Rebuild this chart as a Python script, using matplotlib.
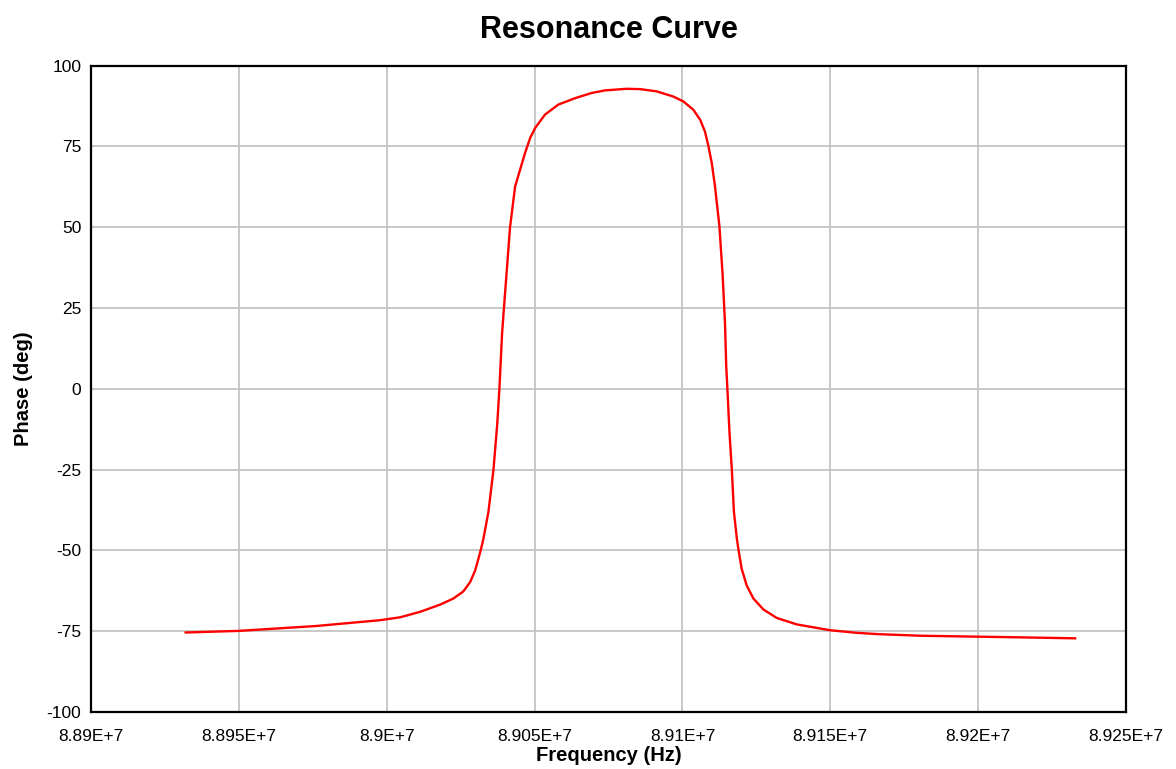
import matplotlib
matplotlib.use("Agg")
import matplotlib.pyplot as plt

plt.rcParams['font.family'] = ['Liberation Sans', 'DejaVu Sans']
plt.rcParams['axes.unicode_minus'] = False

# frequency points (Hz) and measured phase (deg)
freq_hz = [88932000, 88950000, 88976000, 88997700, 89004500, 89011300, 89018000,
           89022500, 89025900, 89028200, 89029900, 89031000, 89031900, 89032700,
           89034400, 89036100, 89037400, 89038100, 89039000, 89039800, 89041700,
           89043400, 89045100, 89046800, 89048500, 89050200, 89053500, 89058000,
           89063700, 89069300, 89073800, 89081000, 89085700, 89091300, 89096900,
           89100300, 89103700, 89106000, 89107600, 89108800, 89109900, 89111000,
           89112500, 89113600, 89114400, 89114800, 89115200, 89115900, 89116700,
           89117400, 89118400, 89118900, 89120000, 89121700, 89124000, 89127400,
           89131900, 89138700, 89149900, 89158900, 89166000, 89180400, 89200300,
           89214200, 89232800]
phase_deg = [-75.4, -74.9, -73.4, -71.6, -70.7, -69.0, -66.8,
             -64.9, -62.7, -59.8, -56.2, -52.6, -49.5, -46.4,
             -38.0, -25.0, -10.5, 0.0, 17.0, 27.0, 50.0,
             62.5, 67.8, 73.0, 77.6, 80.7, 84.8, 87.9,
             89.9, 91.5, 92.3, 92.8, 92.7, 92.0, 90.4,
             88.9, 86.3, 83.2, 79.6, 75.0, 69.9, 62.7,
             50.3, 35.0, 20.0, 7.0, 0.0, -13.5, -25.0,
             -38.0, -46.4, -49.5, -55.6, -60.8, -64.9, -68.3,
             -70.9, -72.9, -74.7, -75.5, -75.9, -76.4, -76.7,
             -76.9, -77.2]

xticks = [88900000, 88950000, 89000000, 89050000, 89100000, 89150000, 89200000, 89250000]
xtick_labels = ['8.89E+7', '8.895E+7', '8.9E+7', '8.905E+7', '8.91E+7',
                '8.915E+7', '8.92E+7', '8.925E+7']
yticks = [-100, -75, -50, -25, 0, 25, 50, 75, 100]

fig = plt.figure(figsize=(11.76, 7.69), dpi=100)
ax = fig.add_axes([0.0774, 0.0741, 0.8801, 0.8407])

ax.plot(freq_hz, phase_deg, color='#ff0000', lw=1.7, zorder=3,
        solid_joinstyle='round')

ax.set_xlim(xticks[0], xticks[-1])
ax.set_ylim(-100, 100)
ax.set_xticks(xticks)
ax.set_xticklabels(xtick_labels)
ax.set_yticks(yticks)
ax.tick_params(axis='both', length=0, labelsize=12.5)
ax.tick_params(axis='x', pad=12)
ax.tick_params(axis='y', pad=7)

ax.grid(True, color='#c4c4c4', lw=1.3, zorder=0)
for s in ax.spines.values():
    s.set_linewidth(1.6)
    s.set_color('black')

ax.set_title('Resonance Curve', fontsize=22, fontweight='bold', pad=20)
ax.set_xlabel('Frequency (Hz)', fontsize=14.5, fontweight='bold', labelpad=2)
ax.set_ylabel('Phase (deg)', fontsize=14.5, fontweight='bold', labelpad=10)

fig.savefig('out.png', dpi=100)
